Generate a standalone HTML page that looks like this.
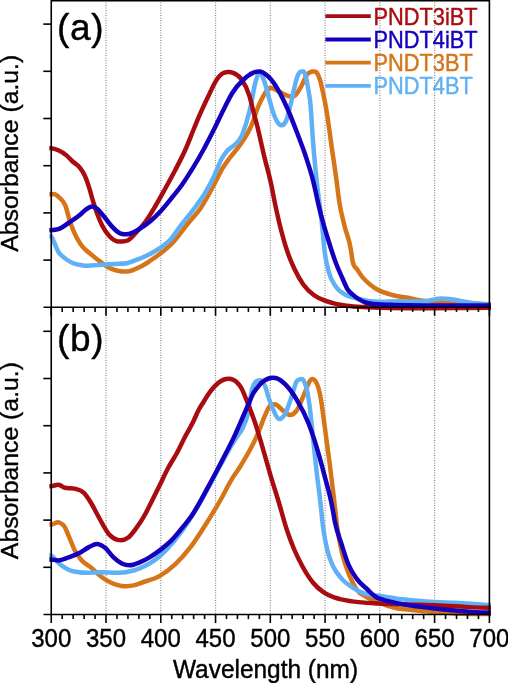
<!DOCTYPE html>
<html><head><meta charset="utf-8"><style>
html,body{margin:0;padding:0;background:#fff;}
svg{display:block;will-change:transform;}
text{font-family:"Liberation Sans", sans-serif;fill:#000;stroke:#000;stroke-width:0.4px;}
</style></head><body>
<svg width="508" height="683" viewBox="0 0 508 683">
<rect width="508" height="683" fill="#fff"/>
<line x1="106.02" y1="0.0" x2="106.02" y2="614.5" stroke="#8c8c8c" stroke-width="1.2" stroke-dasharray="1.1 1.4"/>
<line x1="160.78" y1="0.0" x2="160.78" y2="614.5" stroke="#8c8c8c" stroke-width="1.2" stroke-dasharray="1.1 1.4"/>
<line x1="215.54" y1="0.0" x2="215.54" y2="614.5" stroke="#8c8c8c" stroke-width="1.2" stroke-dasharray="1.1 1.4"/>
<line x1="270.31" y1="0.0" x2="270.31" y2="614.5" stroke="#8c8c8c" stroke-width="1.2" stroke-dasharray="1.1 1.4"/>
<line x1="325.07" y1="0.0" x2="325.07" y2="614.5" stroke="#8c8c8c" stroke-width="1.2" stroke-dasharray="1.1 1.4"/>
<line x1="379.84" y1="0.0" x2="379.84" y2="614.5" stroke="#8c8c8c" stroke-width="1.2" stroke-dasharray="1.1 1.4"/>
<line x1="434.60" y1="0.0" x2="434.60" y2="614.5" stroke="#8c8c8c" stroke-width="1.2" stroke-dasharray="1.1 1.4"/>
<defs>
<clipPath id="ca"><rect x="49.2" y="0" width="441.8" height="312"/></clipPath>
<clipPath id="cb"><rect x="49.2" y="307" width="441.8" height="312"/></clipPath>
</defs>
<g clip-path="url(#ca)">
<path d="M49.20,194.30 C49.83,194.30 50.47,194.30 51.10,194.30 C52.47,194.30 53.83,193.81 55.20,194.30 C56.90,194.91 58.60,196.52 60.30,198.40 C62.00,200.28 63.70,201.24 65.40,205.60 C66.77,209.10 68.13,215.63 69.50,219.90 C70.87,224.17 72.23,227.88 73.60,231.20 C76.00,237.02 78.40,241.02 80.80,244.50 C83.53,248.47 86.27,250.21 89.00,252.70 C92.43,255.82 95.87,258.32 99.30,260.90 C102.70,263.45 106.10,266.38 109.50,268.10 C112.93,269.83 116.37,270.71 119.80,271.20 C123.13,271.68 126.47,271.79 129.80,271.10 C133.10,270.41 136.40,268.76 139.70,267.10 C142.97,265.46 146.23,263.32 149.50,261.20 C152.80,259.06 156.10,256.86 159.40,254.30 C164.37,250.45 169.33,246.47 174.30,241.00 C178.70,236.15 183.10,229.50 187.50,224.00 C191.90,218.50 196.30,214.50 200.70,208.00 C205.10,201.50 209.50,193.27 213.90,185.00 C216.53,180.05 219.17,174.00 221.80,169.50 C224.43,165.00 227.07,161.61 229.70,158.00 C233.13,153.29 236.57,150.02 240.00,145.00 C243.53,139.83 247.07,135.11 250.60,127.30 C253.53,120.82 256.47,110.25 259.40,103.90 C262.50,97.18 265.60,90.77 268.70,88.60 C271.83,86.41 274.97,89.81 278.10,91.00 C281.20,92.18 284.30,94.99 287.40,95.70 C289.83,96.26 292.27,97.63 294.70,95.80 C297.07,94.02 299.43,89.41 301.80,85.20 C303.63,81.94 305.47,76.32 307.30,74.20 C308.20,73.16 309.10,72.64 310.00,72.20 C311.00,71.72 312.00,71.62 313.00,71.60 C314.17,71.58 315.33,70.90 316.50,72.30 C317.63,73.66 318.77,76.08 319.90,79.70 C320.97,83.11 322.03,88.06 323.10,93.00 C324.13,97.79 325.17,102.86 326.20,108.80 C328.10,119.72 330.00,135.19 331.90,148.40 C333.47,159.29 335.03,169.25 336.60,181.10 C337.40,187.15 338.20,194.47 339.00,200.00 C340.83,212.68 342.67,218.19 344.50,226.00 C346.63,235.09 348.77,236.54 350.90,249.80 C351.40,252.91 351.90,257.18 352.40,260.00 C354.00,269.04 355.60,266.63 357.20,269.40 C358.77,272.11 360.33,274.45 361.90,276.50 C364.27,279.59 366.63,281.54 369.00,283.60 C371.73,285.98 374.47,287.90 377.20,289.50 C381.47,292.00 385.73,293.02 390.00,294.30 C391.47,294.74 392.93,295.14 394.40,295.50 C399.00,296.64 403.60,296.91 408.20,297.80 C411.90,298.52 415.60,299.57 419.30,300.20 C426.20,301.38 433.10,301.66 440.00,302.00 C443.00,302.15 446.00,302.22 449.00,302.30 C452.67,302.40 456.33,302.39 460.00,302.50 C469.83,302.78 479.67,304.17 489.50,304.20 C490.00,304.20 490.50,304.20 491.00,304.20" fill="none" stroke="#d67418" stroke-width="4.5" stroke-linejoin="round" stroke-linecap="butt"/>
<path d="M49.20,236.30 C49.83,236.30 50.47,235.82 51.10,236.30 C52.13,237.09 53.17,240.32 54.20,242.50 C55.57,245.38 56.93,249.31 58.30,251.70 C60.33,255.26 62.37,256.18 64.40,257.90 C67.13,260.22 69.87,261.77 72.60,263.00 C76.03,264.54 79.47,264.94 82.90,265.40 C88.37,266.13 93.83,265.27 99.30,265.00 C104.07,264.77 108.83,264.33 113.60,264.00 C118.40,263.67 123.20,264.25 128.00,263.00 C130.57,262.33 133.13,261.19 135.70,260.20 C140.30,258.42 144.90,256.72 149.50,254.30 C152.80,252.57 156.10,250.72 159.40,248.40 C163.33,245.64 167.27,243.13 171.20,238.60 C174.00,235.37 176.80,230.73 179.60,227.00 C184.00,221.13 188.40,216.32 192.80,210.40 C197.20,204.48 201.60,199.09 206.00,191.50 C208.63,186.96 211.27,182.00 213.90,176.50 C216.53,171.00 219.17,163.14 221.80,158.50 C223.57,155.39 225.33,153.08 227.10,151.00 C229.73,147.90 232.37,147.28 235.00,144.50 C237.10,142.29 239.20,141.07 241.30,136.70 C243.63,131.85 245.97,124.32 248.30,115.60 C249.27,111.99 250.23,108.39 251.20,103.90 C252.37,98.49 253.53,89.93 254.70,85.10 C256.27,78.61 257.83,74.12 259.40,73.40 C260.93,72.69 262.47,76.57 264.00,80.40 C265.57,84.31 267.13,91.33 268.70,96.80 C270.27,102.27 271.83,108.87 273.40,113.20 C275.73,119.65 278.07,124.21 280.40,125.00 C282.37,125.67 284.33,125.18 286.30,120.30 C287.53,117.24 288.77,112.10 290.00,107.20 C291.30,102.03 292.60,95.31 293.90,89.90 C294.97,85.46 296.03,80.37 297.10,77.30 C297.90,75.00 298.70,73.29 299.50,72.30 C300.33,71.27 301.17,71.35 302.00,71.40 C302.83,71.45 303.67,70.78 304.50,72.60 C305.17,74.06 305.83,76.73 306.50,79.70 C307.30,83.26 308.10,88.05 308.90,93.00 C309.33,95.68 309.77,97.68 310.20,101.50 C311.20,110.31 312.20,131.19 313.20,143.70 C314.37,158.29 315.53,169.87 316.70,181.10 C318.37,197.15 320.03,206.46 321.70,221.70 C322.80,231.76 323.90,245.82 325.00,254.10 C326.43,264.88 327.87,268.55 329.30,273.60 C331.47,281.24 333.63,283.24 335.80,286.60 C339.40,292.18 343.00,293.32 346.60,295.30 C350.20,297.28 353.80,297.55 357.40,298.50 C361.03,299.46 364.67,300.37 368.30,301.00 C378.87,302.82 389.43,301.17 400.00,301.20 C408.33,301.22 416.67,301.99 425.00,301.20 C430.67,300.66 436.33,298.51 442.00,298.50 C444.50,298.49 447.00,298.73 449.50,299.00 C453.33,299.42 457.17,300.32 461.00,301.00 C466.00,301.88 471.00,303.12 476.00,303.70 C480.50,304.22 485.00,304.47 489.50,304.50 C490.00,304.50 490.50,304.50 491.00,304.50" fill="none" stroke="#60b0f5" stroke-width="4.5" stroke-linejoin="round" stroke-linecap="butt"/>
<path d="M49.20,148.20 C49.83,148.20 50.47,148.16 51.10,148.20 C53.50,148.34 55.90,149.13 58.30,150.20 C61.03,151.41 63.77,153.09 66.50,155.40 C68.53,157.12 70.57,159.60 72.60,161.50 C75.00,163.75 77.40,164.58 79.80,167.70 C81.50,169.91 83.20,172.11 84.90,175.90 C86.27,178.95 87.63,182.83 89.00,187.10 C90.37,191.37 91.73,197.05 93.10,201.50 C94.47,205.95 95.83,210.08 97.20,213.80 C98.93,218.52 100.67,222.68 102.40,226.10 C104.77,230.77 107.13,233.78 109.50,236.30 C112.23,239.21 114.97,241.12 117.70,241.50 C118.47,241.61 119.23,241.52 120.00,241.50 C122.63,241.42 125.27,241.84 127.90,240.40 C130.50,238.98 133.10,235.71 135.70,233.00 C139.00,229.56 142.30,226.03 145.60,221.50 C148.87,217.02 152.13,211.48 155.40,206.00 C158.60,200.63 161.80,194.79 165.00,189.00 C168.33,182.97 171.67,176.92 175.00,170.50 C178.33,164.08 181.67,157.95 185.00,150.50 C188.00,143.80 191.00,135.72 194.00,128.50 C196.00,123.68 198.00,118.78 200.00,114.20 C202.77,107.87 205.53,102.03 208.30,96.30 C211.03,90.64 213.77,84.03 216.50,80.00 C218.33,77.30 220.17,75.13 222.00,73.80 C223.87,72.44 225.73,72.16 227.60,72.00 C229.43,71.84 231.27,72.08 233.10,72.80 C235.83,73.87 238.57,75.13 241.30,79.00 C244.07,82.92 246.83,86.72 249.60,96.30 C250.73,100.23 251.87,105.58 253.00,110.00 C254.33,115.20 255.67,119.71 257.00,125.00 C259.33,134.25 261.67,145.65 264.00,155.40 C266.33,165.15 268.67,172.79 271.00,183.50 C272.57,190.69 274.13,199.59 275.70,206.90 C277.70,216.23 279.70,224.87 281.70,232.50 C283.87,240.76 286.03,247.94 288.20,254.10 C290.33,260.17 292.47,264.80 294.60,269.30 C297.50,275.42 300.40,280.40 303.30,284.50 C306.90,289.59 310.50,292.60 314.10,295.30 C317.73,298.02 321.37,299.26 325.00,300.70 C328.60,302.12 332.20,303.07 335.80,303.90 C339.40,304.73 343.00,305.22 346.60,305.70 C353.83,306.67 361.07,306.77 368.30,307.20 C408.70,309.60 449.10,307.80 489.50,307.80 C490.00,307.80 490.50,307.80 491.00,307.80" fill="none" stroke="#a80c10" stroke-width="4.5" stroke-linejoin="round" stroke-linecap="butt"/>
<path d="M49.20,230.20 C49.83,230.20 50.47,230.22 51.10,230.20 C53.50,230.13 55.90,230.00 58.30,229.20 C61.70,228.07 65.10,225.22 68.50,223.00 C71.93,220.76 75.37,218.52 78.80,215.80 C81.53,213.64 84.27,210.30 87.00,208.70 C88.70,207.70 90.40,206.60 92.10,206.60 C93.80,206.60 95.50,207.44 97.20,208.70 C99.27,210.24 101.33,213.33 103.40,215.80 C106.13,219.06 108.87,223.18 111.60,226.10 C114.33,229.02 117.07,231.93 119.80,233.30 C123.13,234.97 126.47,234.48 129.80,233.70 C133.10,232.93 136.40,230.68 139.70,228.70 C143.33,226.52 146.97,224.06 150.60,221.00 C154.10,218.06 157.60,214.61 161.10,210.80 C164.63,206.95 168.17,202.41 171.70,198.00 C175.20,193.64 178.70,189.44 182.20,184.50 C185.73,179.51 189.27,173.98 192.80,168.20 C196.30,162.47 199.80,156.42 203.30,150.00 C206.83,143.52 210.37,136.54 213.90,129.50 C217.40,122.53 220.90,114.87 224.40,108.00 C227.03,102.83 229.67,97.24 232.30,93.00 C236.07,86.94 239.83,83.01 243.60,79.50 C246.73,76.58 249.87,74.09 253.00,72.80 C255.33,71.84 257.67,71.09 260.00,71.50 C262.90,72.00 265.80,74.05 268.70,76.90 C271.83,79.98 274.97,84.49 278.10,89.80 C281.20,95.05 284.30,101.51 287.40,108.50 C290.53,115.56 293.67,123.80 296.80,132.00 C299.93,140.20 303.07,148.04 306.20,157.70 C308.53,164.89 310.87,171.89 313.20,181.10 C315.13,188.73 317.07,198.95 319.00,206.90 C320.27,212.11 321.53,217.03 322.80,221.70 C324.97,229.68 327.13,236.45 329.30,243.30 C331.47,250.15 333.63,257.02 335.80,262.80 C337.97,268.58 340.13,273.18 342.30,278.00 C344.10,282.00 345.90,286.64 347.70,289.50 C349.67,292.63 351.63,293.72 353.60,295.40 C355.57,297.08 357.53,298.42 359.50,299.60 C361.47,300.78 363.43,301.82 365.40,302.50 C367.37,303.18 369.33,303.40 371.30,303.70 C373.27,304.00 375.23,304.14 377.20,304.30 C381.47,304.65 385.73,304.65 390.00,304.80 C423.17,305.97 456.33,305.40 489.50,305.40 C490.00,305.40 490.50,305.40 491.00,305.40" fill="none" stroke="#1500be" stroke-width="4.5" stroke-linejoin="round" stroke-linecap="butt"/>
</g>
<g clip-path="url(#cb)">
<path d="M49.20,524.60 C49.83,524.60 50.47,524.63 51.10,524.60 C53.83,524.47 56.57,521.41 59.30,522.50 C61.00,523.18 62.70,524.03 64.40,526.60 C66.10,529.17 67.80,534.01 69.50,537.90 C71.23,541.87 72.97,546.78 74.70,550.20 C77.07,554.87 79.43,557.68 81.80,560.40 C84.90,563.96 88.00,565.01 91.10,567.60 C94.50,570.44 97.90,574.24 101.30,576.80 C104.73,579.38 108.17,581.46 111.60,583.00 C115.00,584.52 118.40,585.57 121.80,586.00 C125.13,586.42 128.47,586.14 131.80,585.60 C135.73,584.96 139.67,583.31 143.60,582.00 C148.87,580.24 154.13,579.07 159.40,576.10 C164.63,573.15 169.87,569.19 175.10,564.30 C180.37,559.37 185.63,553.51 190.90,546.60 C196.13,539.73 201.37,531.29 206.60,523.00 C211.13,515.82 215.67,508.41 220.20,500.50 C224.23,493.46 228.27,484.92 232.30,478.40 C234.67,474.57 237.03,471.55 239.40,467.80 C241.73,464.11 244.07,460.18 246.40,456.10 C248.73,452.02 251.07,448.07 253.40,443.30 C255.33,439.35 257.27,435.04 259.20,430.40 C261.17,425.68 263.13,419.65 265.10,415.20 C266.47,412.10 267.83,408.70 269.20,406.80 C271.37,403.78 273.53,404.04 275.70,404.50 C278.07,405.00 280.43,408.64 282.80,410.40 C285.13,412.13 287.47,415.00 289.80,415.00 C292.13,415.00 294.47,413.72 296.80,410.40 C299.13,407.08 301.47,400.18 303.80,395.10 C306.13,390.02 308.47,381.58 310.80,379.90 C312.37,378.77 313.93,378.57 315.50,381.10 C317.07,383.63 318.63,387.30 320.20,395.10 C321.77,402.90 323.33,416.58 324.90,427.90 C326.47,439.22 328.03,450.76 329.60,463.00 C331.13,474.98 332.67,487.17 334.20,500.50 C335.17,508.90 336.13,519.26 337.10,526.70 C338.90,540.55 340.70,547.23 342.50,554.80 C344.67,563.91 346.83,568.80 349.00,574.30 C351.53,580.73 354.07,585.75 356.60,589.50 C360.20,594.83 363.80,595.34 367.40,597.50 C371.03,599.68 374.67,601.03 378.30,602.50 C384.07,604.83 389.83,606.75 395.60,608.00 C401.13,609.20 406.67,609.40 412.20,610.00 C419.80,610.82 427.40,611.52 435.00,612.10 C441.87,612.63 448.73,613.08 455.60,613.40 C466.90,613.92 478.20,613.99 489.50,614.00 C490.00,614.00 490.50,614.00 491.00,614.00" fill="none" stroke="#d67418" stroke-width="4.5" stroke-linejoin="round" stroke-linecap="butt"/>
<path d="M49.20,555.30 C49.83,555.30 50.47,555.06 51.10,555.30 C52.13,555.69 53.17,557.37 54.20,558.40 C56.23,560.43 58.27,562.78 60.30,564.50 C63.03,566.81 65.77,568.43 68.50,569.70 C71.93,571.30 75.37,571.72 78.80,572.30 C85.63,573.45 92.47,572.36 99.30,572.30 C108.87,572.22 118.43,573.73 128.00,571.70 C131.90,570.87 135.80,569.88 139.70,568.30 C146.27,565.64 152.83,562.07 159.40,556.50 C165.93,550.96 172.47,543.55 179.00,535.00 C185.57,526.40 192.13,516.00 198.70,505.00 C205.27,494.00 211.83,480.93 218.40,469.00 C222.27,461.98 226.13,454.49 230.00,448.00 C232.33,444.08 234.67,440.50 237.00,436.80 C238.97,433.68 240.93,431.81 242.90,427.50 C244.43,424.14 245.97,421.62 247.50,415.20 C249.03,408.78 250.57,394.53 252.10,389.00 C253.23,384.91 254.37,383.39 255.50,382.00 C256.50,380.77 257.50,380.70 258.50,380.50 C259.67,380.26 260.83,379.87 262.00,381.00 C263.17,382.13 264.33,384.26 265.50,387.30 C266.53,389.99 267.57,394.49 268.60,397.60 C269.67,400.81 270.73,403.60 271.80,406.20 C273.90,411.32 276.00,417.00 278.10,418.50 C280.43,420.17 282.77,417.80 285.10,413.90 C287.43,410.00 289.77,401.84 292.10,395.10 C293.60,390.76 295.10,384.00 296.60,381.50 C297.73,379.61 298.87,379.53 300.00,379.30 C301.17,379.06 302.33,378.43 303.50,380.20 C304.50,381.72 305.50,383.82 306.50,388.00 C307.57,392.46 308.63,398.75 309.70,406.80 C310.87,415.60 312.03,428.67 313.20,439.60 C314.37,450.53 315.53,462.25 316.70,472.40 C317.87,482.55 319.03,490.27 320.20,500.50 C321.13,508.68 322.07,519.40 323.00,526.70 C324.47,538.17 325.93,544.29 327.40,550.50 C329.20,558.12 331.00,561.46 332.80,565.60 C335.70,572.26 338.60,575.16 341.50,578.60 C345.10,582.87 348.70,584.90 352.30,587.30 C356.63,590.19 360.97,592.36 365.30,593.80 C370.27,595.45 375.23,595.15 380.20,595.90 C385.33,596.68 390.47,597.70 395.60,598.40 C402.00,599.27 408.40,599.81 414.80,600.40 C421.53,601.02 428.27,601.60 435.00,602.00 C441.87,602.41 448.73,602.45 455.60,602.80 C464.13,603.24 472.67,603.97 481.20,604.50 C483.97,604.67 486.73,604.97 489.50,605.00 C490.00,605.00 490.50,605.00 491.00,605.00" fill="none" stroke="#60b0f5" stroke-width="4.5" stroke-linejoin="round" stroke-linecap="butt"/>
<path d="M49.20,486.20 C49.83,486.20 50.47,486.22 51.10,486.20 C53.83,486.12 56.57,484.26 59.30,485.00 C61.00,485.46 62.70,487.04 64.40,487.70 C67.83,489.03 71.27,487.73 74.70,488.70 C77.77,489.56 80.83,489.76 83.90,492.80 C86.30,495.18 88.70,499.03 91.10,503.00 C93.13,506.36 95.17,510.56 97.20,514.30 C99.27,518.10 101.33,522.16 103.40,525.60 C105.43,528.98 107.47,532.50 109.50,534.80 C112.23,537.89 114.97,539.21 117.70,539.90 C121.10,540.76 124.50,540.30 127.90,537.80 C130.50,535.89 133.10,532.34 135.70,528.90 C139.00,524.53 142.30,519.61 145.60,513.50 C147.23,510.47 148.87,506.97 150.50,503.70 C153.43,497.83 156.37,492.05 159.30,486.10 C162.23,480.15 165.17,473.52 168.10,468.00 C171.03,462.48 173.97,458.42 176.90,453.00 C179.83,447.58 182.77,441.05 185.70,435.50 C188.03,431.09 190.37,427.44 192.70,422.80 C194.77,418.69 196.83,413.31 198.90,409.50 C200.40,406.74 201.90,404.60 203.40,402.20 C205.37,399.05 207.33,395.63 209.30,392.90 C211.23,390.21 213.17,387.87 215.10,385.90 C217.07,383.89 219.03,382.18 221.00,381.00 C222.67,380.00 224.33,379.33 226.00,379.00 C227.67,378.67 229.33,378.58 231.00,379.00 C232.67,379.42 234.33,380.08 236.00,381.50 C237.77,383.01 239.53,384.88 241.30,388.00 C243.13,391.24 244.97,396.29 246.80,400.80 C249.57,407.61 252.33,414.60 255.10,422.90 C257.50,430.10 259.90,438.47 262.30,446.60 C265.03,455.86 267.77,466.07 270.50,475.30 C273.23,484.53 275.97,492.88 278.70,502.00 C281.43,511.12 284.17,521.76 286.90,530.00 C289.20,536.94 291.50,542.96 293.80,548.50 C296.70,555.49 299.60,561.20 302.50,566.50 C306.10,573.08 309.70,578.63 313.30,583.00 C316.90,587.37 320.50,590.25 324.10,592.70 C327.73,595.17 331.37,596.38 335.00,597.70 C340.77,599.80 346.53,600.47 352.30,601.40 C360.97,602.79 369.63,603.03 378.30,603.50 C386.20,603.93 394.10,603.95 402.00,604.20 C413.00,604.54 424.00,604.83 435.00,605.30 C441.87,605.59 448.73,605.98 455.60,606.30 C466.90,606.83 478.20,607.78 489.50,607.80 C490.00,607.80 490.50,607.80 491.00,607.80" fill="none" stroke="#a80c10" stroke-width="4.5" stroke-linejoin="round" stroke-linecap="butt"/>
<path d="M49.20,559.40 C49.83,559.40 50.47,559.38 51.10,559.40 C53.50,559.47 55.90,560.50 58.30,560.40 C61.70,560.26 65.10,558.58 68.50,557.40 C71.93,556.21 75.37,555.03 78.80,553.30 C82.20,551.59 85.60,548.73 89.00,547.10 C91.73,545.79 94.47,543.83 97.20,544.00 C99.93,544.17 102.67,545.87 105.40,548.10 C108.13,550.33 110.87,554.83 113.60,557.40 C116.33,559.97 119.07,562.18 121.80,563.50 C124.47,564.78 127.13,565.32 129.80,565.30 C133.10,565.28 136.40,563.73 139.70,562.40 C142.97,561.09 146.23,559.35 149.50,557.40 C152.80,555.43 156.10,553.10 159.40,550.60 C163.33,547.63 167.27,544.65 171.20,540.70 C175.13,536.75 179.07,531.78 183.00,526.90 C185.93,523.26 188.87,519.77 191.80,515.50 C197.07,507.83 202.33,497.49 207.60,487.90 C212.27,479.40 216.93,470.55 221.60,461.50 C226.30,452.39 231.00,443.72 235.70,433.40 C237.80,428.79 239.90,423.83 242.00,419.00 C244.30,413.71 246.60,408.23 248.90,403.00 C250.23,399.97 251.57,396.47 252.90,394.00 C254.20,391.59 255.50,390.03 256.80,388.30 C258.10,386.57 259.40,384.91 260.70,383.60 C262.03,382.26 263.37,381.26 264.70,380.40 C266.00,379.57 267.30,378.93 268.60,378.50 C270.07,378.01 271.53,377.82 273.00,377.80 C274.33,377.79 275.67,377.83 277.00,378.30 C278.33,378.77 279.67,379.63 281.00,380.60 C282.37,381.59 283.73,382.84 285.10,384.20 C289.00,388.09 292.90,393.30 296.80,399.80 C300.70,406.30 304.60,413.26 308.50,423.20 C311.63,431.19 314.77,440.68 317.90,451.30 C320.23,459.21 322.57,468.12 324.90,477.10 C327.23,486.08 329.57,493.40 331.90,505.20 C332.93,510.42 333.97,517.33 335.00,522.30 C337.17,532.73 339.33,537.13 341.50,544.00 C343.67,550.87 345.83,558.16 348.00,563.50 C350.87,570.56 353.73,574.52 356.60,578.60 C360.20,583.73 363.80,586.08 367.40,589.50 C369.97,591.94 372.53,594.80 375.10,596.50 C377.67,598.20 380.23,598.79 382.80,599.70 C387.07,601.21 391.33,601.99 395.60,602.90 C400.73,603.99 405.87,604.72 411.00,605.50 C419.00,606.71 427.00,607.60 435.00,608.50 C441.87,609.27 448.73,610.01 455.60,610.60 C466.90,611.57 478.20,612.57 489.50,612.60 C490.00,612.60 490.50,612.60 491.00,612.60" fill="none" stroke="#1500be" stroke-width="4.5" stroke-linejoin="round" stroke-linecap="butt"/>
</g>
<line x1="51.25" y1="0" x2="51.25" y2="615.3" stroke="#000" stroke-width="1.6"/>
<line x1="489.4" y1="0" x2="489.4" y2="615.3" stroke="#000" stroke-width="1.6"/>
<line x1="51.25" y1="0.8" x2="489.4" y2="0.8" stroke="#000" stroke-width="1.6"/>
<line x1="43.5" y1="307.3" x2="490.5" y2="307.3" stroke="#000" stroke-width="1.6"/>
<line x1="43.5" y1="614.5" x2="490.5" y2="614.5" stroke="#000" stroke-width="1.6"/>
<line x1="43.3" y1="260.10" x2="51.25" y2="260.10" stroke="#000" stroke-width="1.6"/>
<line x1="43.3" y1="212.90" x2="51.25" y2="212.90" stroke="#000" stroke-width="1.6"/>
<line x1="43.3" y1="165.70" x2="51.25" y2="165.70" stroke="#000" stroke-width="1.6"/>
<line x1="43.3" y1="118.50" x2="51.25" y2="118.50" stroke="#000" stroke-width="1.6"/>
<line x1="43.3" y1="71.30" x2="51.25" y2="71.30" stroke="#000" stroke-width="1.6"/>
<line x1="43.3" y1="24.10" x2="51.25" y2="24.10" stroke="#000" stroke-width="1.6"/>
<line x1="43.3" y1="567.30" x2="51.25" y2="567.30" stroke="#000" stroke-width="1.6"/>
<line x1="43.3" y1="520.10" x2="51.25" y2="520.10" stroke="#000" stroke-width="1.6"/>
<line x1="43.3" y1="472.90" x2="51.25" y2="472.90" stroke="#000" stroke-width="1.6"/>
<line x1="43.3" y1="425.70" x2="51.25" y2="425.70" stroke="#000" stroke-width="1.6"/>
<line x1="43.3" y1="378.50" x2="51.25" y2="378.50" stroke="#000" stroke-width="1.6"/>
<line x1="43.3" y1="331.30" x2="51.25" y2="331.30" stroke="#000" stroke-width="1.6"/>
<line x1="62.20" y1="307.3" x2="62.20" y2="311.90000000000003" stroke="#000" stroke-width="1.6"/>
<line x1="73.16" y1="307.3" x2="73.16" y2="311.90000000000003" stroke="#000" stroke-width="1.6"/>
<line x1="84.11" y1="307.3" x2="84.11" y2="311.90000000000003" stroke="#000" stroke-width="1.6"/>
<line x1="95.06" y1="307.3" x2="95.06" y2="311.90000000000003" stroke="#000" stroke-width="1.6"/>
<line x1="106.02" y1="307.3" x2="106.02" y2="315.8" stroke="#000" stroke-width="1.6"/>
<line x1="116.97" y1="307.3" x2="116.97" y2="311.90000000000003" stroke="#000" stroke-width="1.6"/>
<line x1="127.92" y1="307.3" x2="127.92" y2="311.90000000000003" stroke="#000" stroke-width="1.6"/>
<line x1="138.87" y1="307.3" x2="138.87" y2="311.90000000000003" stroke="#000" stroke-width="1.6"/>
<line x1="149.83" y1="307.3" x2="149.83" y2="311.90000000000003" stroke="#000" stroke-width="1.6"/>
<line x1="160.78" y1="307.3" x2="160.78" y2="315.8" stroke="#000" stroke-width="1.6"/>
<line x1="171.73" y1="307.3" x2="171.73" y2="311.90000000000003" stroke="#000" stroke-width="1.6"/>
<line x1="182.69" y1="307.3" x2="182.69" y2="311.90000000000003" stroke="#000" stroke-width="1.6"/>
<line x1="193.64" y1="307.3" x2="193.64" y2="311.90000000000003" stroke="#000" stroke-width="1.6"/>
<line x1="204.59" y1="307.3" x2="204.59" y2="311.90000000000003" stroke="#000" stroke-width="1.6"/>
<line x1="215.54" y1="307.3" x2="215.54" y2="315.8" stroke="#000" stroke-width="1.6"/>
<line x1="226.50" y1="307.3" x2="226.50" y2="311.90000000000003" stroke="#000" stroke-width="1.6"/>
<line x1="237.45" y1="307.3" x2="237.45" y2="311.90000000000003" stroke="#000" stroke-width="1.6"/>
<line x1="248.40" y1="307.3" x2="248.40" y2="311.90000000000003" stroke="#000" stroke-width="1.6"/>
<line x1="259.36" y1="307.3" x2="259.36" y2="311.90000000000003" stroke="#000" stroke-width="1.6"/>
<line x1="270.31" y1="307.3" x2="270.31" y2="315.8" stroke="#000" stroke-width="1.6"/>
<line x1="281.26" y1="307.3" x2="281.26" y2="311.90000000000003" stroke="#000" stroke-width="1.6"/>
<line x1="292.22" y1="307.3" x2="292.22" y2="311.90000000000003" stroke="#000" stroke-width="1.6"/>
<line x1="303.17" y1="307.3" x2="303.17" y2="311.90000000000003" stroke="#000" stroke-width="1.6"/>
<line x1="314.12" y1="307.3" x2="314.12" y2="311.90000000000003" stroke="#000" stroke-width="1.6"/>
<line x1="325.07" y1="307.3" x2="325.07" y2="315.8" stroke="#000" stroke-width="1.6"/>
<line x1="336.03" y1="307.3" x2="336.03" y2="311.90000000000003" stroke="#000" stroke-width="1.6"/>
<line x1="346.98" y1="307.3" x2="346.98" y2="311.90000000000003" stroke="#000" stroke-width="1.6"/>
<line x1="357.93" y1="307.3" x2="357.93" y2="311.90000000000003" stroke="#000" stroke-width="1.6"/>
<line x1="368.89" y1="307.3" x2="368.89" y2="311.90000000000003" stroke="#000" stroke-width="1.6"/>
<line x1="379.84" y1="307.3" x2="379.84" y2="315.8" stroke="#000" stroke-width="1.6"/>
<line x1="390.79" y1="307.3" x2="390.79" y2="311.90000000000003" stroke="#000" stroke-width="1.6"/>
<line x1="401.75" y1="307.3" x2="401.75" y2="311.90000000000003" stroke="#000" stroke-width="1.6"/>
<line x1="412.70" y1="307.3" x2="412.70" y2="311.90000000000003" stroke="#000" stroke-width="1.6"/>
<line x1="423.65" y1="307.3" x2="423.65" y2="311.90000000000003" stroke="#000" stroke-width="1.6"/>
<line x1="434.60" y1="307.3" x2="434.60" y2="315.8" stroke="#000" stroke-width="1.6"/>
<line x1="445.56" y1="307.3" x2="445.56" y2="311.90000000000003" stroke="#000" stroke-width="1.6"/>
<line x1="456.51" y1="307.3" x2="456.51" y2="311.90000000000003" stroke="#000" stroke-width="1.6"/>
<line x1="467.46" y1="307.3" x2="467.46" y2="311.90000000000003" stroke="#000" stroke-width="1.6"/>
<line x1="478.42" y1="307.3" x2="478.42" y2="311.90000000000003" stroke="#000" stroke-width="1.6"/>
<line x1="51.25" y1="307.3" x2="51.25" y2="315.8" stroke="#000" stroke-width="1.6"/>
<line x1="489.4" y1="307.3" x2="489.4" y2="315.8" stroke="#000" stroke-width="1.6"/>
<line x1="62.20" y1="614.5" x2="62.20" y2="619.1" stroke="#000" stroke-width="1.6"/>
<line x1="73.16" y1="614.5" x2="73.16" y2="619.1" stroke="#000" stroke-width="1.6"/>
<line x1="84.11" y1="614.5" x2="84.11" y2="619.1" stroke="#000" stroke-width="1.6"/>
<line x1="95.06" y1="614.5" x2="95.06" y2="619.1" stroke="#000" stroke-width="1.6"/>
<line x1="106.02" y1="614.5" x2="106.02" y2="623.0" stroke="#000" stroke-width="1.6"/>
<line x1="116.97" y1="614.5" x2="116.97" y2="619.1" stroke="#000" stroke-width="1.6"/>
<line x1="127.92" y1="614.5" x2="127.92" y2="619.1" stroke="#000" stroke-width="1.6"/>
<line x1="138.87" y1="614.5" x2="138.87" y2="619.1" stroke="#000" stroke-width="1.6"/>
<line x1="149.83" y1="614.5" x2="149.83" y2="619.1" stroke="#000" stroke-width="1.6"/>
<line x1="160.78" y1="614.5" x2="160.78" y2="623.0" stroke="#000" stroke-width="1.6"/>
<line x1="171.73" y1="614.5" x2="171.73" y2="619.1" stroke="#000" stroke-width="1.6"/>
<line x1="182.69" y1="614.5" x2="182.69" y2="619.1" stroke="#000" stroke-width="1.6"/>
<line x1="193.64" y1="614.5" x2="193.64" y2="619.1" stroke="#000" stroke-width="1.6"/>
<line x1="204.59" y1="614.5" x2="204.59" y2="619.1" stroke="#000" stroke-width="1.6"/>
<line x1="215.54" y1="614.5" x2="215.54" y2="623.0" stroke="#000" stroke-width="1.6"/>
<line x1="226.50" y1="614.5" x2="226.50" y2="619.1" stroke="#000" stroke-width="1.6"/>
<line x1="237.45" y1="614.5" x2="237.45" y2="619.1" stroke="#000" stroke-width="1.6"/>
<line x1="248.40" y1="614.5" x2="248.40" y2="619.1" stroke="#000" stroke-width="1.6"/>
<line x1="259.36" y1="614.5" x2="259.36" y2="619.1" stroke="#000" stroke-width="1.6"/>
<line x1="270.31" y1="614.5" x2="270.31" y2="623.0" stroke="#000" stroke-width="1.6"/>
<line x1="281.26" y1="614.5" x2="281.26" y2="619.1" stroke="#000" stroke-width="1.6"/>
<line x1="292.22" y1="614.5" x2="292.22" y2="619.1" stroke="#000" stroke-width="1.6"/>
<line x1="303.17" y1="614.5" x2="303.17" y2="619.1" stroke="#000" stroke-width="1.6"/>
<line x1="314.12" y1="614.5" x2="314.12" y2="619.1" stroke="#000" stroke-width="1.6"/>
<line x1="325.07" y1="614.5" x2="325.07" y2="623.0" stroke="#000" stroke-width="1.6"/>
<line x1="336.03" y1="614.5" x2="336.03" y2="619.1" stroke="#000" stroke-width="1.6"/>
<line x1="346.98" y1="614.5" x2="346.98" y2="619.1" stroke="#000" stroke-width="1.6"/>
<line x1="357.93" y1="614.5" x2="357.93" y2="619.1" stroke="#000" stroke-width="1.6"/>
<line x1="368.89" y1="614.5" x2="368.89" y2="619.1" stroke="#000" stroke-width="1.6"/>
<line x1="379.84" y1="614.5" x2="379.84" y2="623.0" stroke="#000" stroke-width="1.6"/>
<line x1="390.79" y1="614.5" x2="390.79" y2="619.1" stroke="#000" stroke-width="1.6"/>
<line x1="401.75" y1="614.5" x2="401.75" y2="619.1" stroke="#000" stroke-width="1.6"/>
<line x1="412.70" y1="614.5" x2="412.70" y2="619.1" stroke="#000" stroke-width="1.6"/>
<line x1="423.65" y1="614.5" x2="423.65" y2="619.1" stroke="#000" stroke-width="1.6"/>
<line x1="434.60" y1="614.5" x2="434.60" y2="623.0" stroke="#000" stroke-width="1.6"/>
<line x1="445.56" y1="614.5" x2="445.56" y2="619.1" stroke="#000" stroke-width="1.6"/>
<line x1="456.51" y1="614.5" x2="456.51" y2="619.1" stroke="#000" stroke-width="1.6"/>
<line x1="467.46" y1="614.5" x2="467.46" y2="619.1" stroke="#000" stroke-width="1.6"/>
<line x1="478.42" y1="614.5" x2="478.42" y2="619.1" stroke="#000" stroke-width="1.6"/>
<line x1="51.25" y1="614.5" x2="51.25" y2="623.0" stroke="#000" stroke-width="1.6"/>
<line x1="489.4" y1="614.5" x2="489.4" y2="623.0" stroke="#000" stroke-width="1.6"/>
<line x1="325.3" y1="16.1" x2="370.8" y2="16.1" stroke="#a80c10" stroke-width="3.8"/>
<text transform="translate(373.5,24.5) scale(1,1.07)" font-size="21.8" style="fill:#a80c10;stroke:#a80c10">PNDT3iBT</text>
<line x1="325.3" y1="39.5" x2="370.8" y2="39.5" stroke="#1500be" stroke-width="3.8"/>
<text transform="translate(373.5,47.9) scale(1,1.07)" font-size="21.8" style="fill:#1500be;stroke:#1500be">PNDT4iBT</text>
<line x1="325.3" y1="62.6" x2="370.8" y2="62.6" stroke="#d67418" stroke-width="3.8"/>
<text transform="translate(373.5,71.0) scale(1,1.07)" font-size="21.8" style="fill:#d67418;stroke:#d67418">PNDT3BT</text>
<line x1="325.3" y1="85.9" x2="370.8" y2="85.9" stroke="#60b0f5" stroke-width="3.8"/>
<text transform="translate(373.5,94.3) scale(1,1.07)" font-size="21.8" style="fill:#60b0f5;stroke:#60b0f5">PNDT4BT</text>
<text transform="translate(51.25,646.7) scale(1,1.065)" text-anchor="middle" font-size="24">300</text>
<text transform="translate(106.02,646.7) scale(1,1.065)" text-anchor="middle" font-size="24">350</text>
<text transform="translate(160.78,646.7) scale(1,1.065)" text-anchor="middle" font-size="24">400</text>
<text transform="translate(215.54,646.7) scale(1,1.065)" text-anchor="middle" font-size="24">450</text>
<text transform="translate(270.31,646.7) scale(1,1.065)" text-anchor="middle" font-size="24">500</text>
<text transform="translate(325.07,646.7) scale(1,1.065)" text-anchor="middle" font-size="24">550</text>
<text transform="translate(379.84,646.7) scale(1,1.065)" text-anchor="middle" font-size="24">600</text>
<text transform="translate(434.60,646.7) scale(1,1.065)" text-anchor="middle" font-size="24">650</text>
<text transform="translate(489.37,646.7) scale(1,1.065)" text-anchor="middle" font-size="24">700</text>
<text transform="translate(265.5,677.8) scale(1.01,1.065)" text-anchor="middle" font-size="24.2">Wavelength (nm)</text>
<text transform="translate(18,153.3) rotate(-90)" text-anchor="middle" font-size="24.8">Absorbance (a.u.)</text>
<text transform="translate(18,460.6) rotate(-90)" text-anchor="middle" font-size="24.8">Absorbance (a.u.)</text>
<text x="57" y="39.6" font-size="37" letter-spacing="0.7">(a)</text>
<text x="57" y="350.9" font-size="37" letter-spacing="0.7">(b)</text>
</svg>
</body></html>
